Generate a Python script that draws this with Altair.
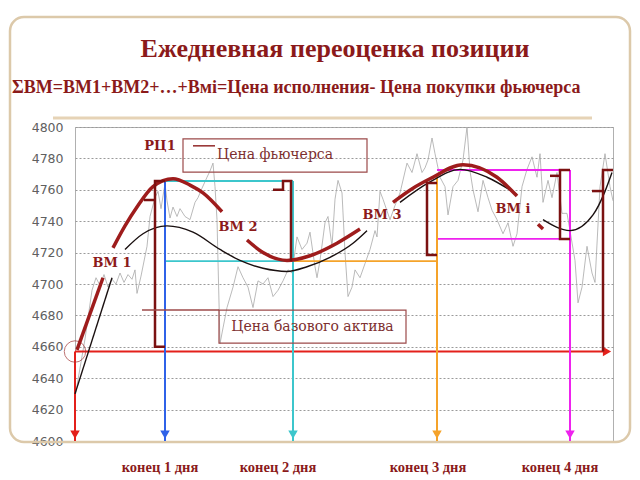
import altair as alt
import pandas as pd

# ---------------- data ----------------
Y_TICKS = list(range(4600, 4801, 20))

# thin grey price path (time units, price)
grey_t = [0, 3, 10, 17, 21, 25, 29, 33, 37, 41, 45, 49, 53, 57, 60, 62, 66, 72, 75, 80,
          83, 86, 90, 92, 95, 98, 102, 105, 110, 115, 120, 123, 127, 132, 135, 138, 140, 142, 145, 148,
          152, 158, 163, 168, 173, 178, 183, 188, 193, 198, 203, 208, 213, 217, 222, 227, 232, 235, 240, 242,
          245, 250, 253, 257, 260, 263, 267, 270, 273, 277, 280, 285, 290, 295, 300, 302, 305, 308, 315, 320,
          325, 332, 337, 342, 347, 350, 353, 357, 360, 365, 370, 373, 378, 383, 388, 392, 395, 398, 403, 408,
          413, 417, 422, 428, 433, 438, 442, 447, 452, 457, 462, 465, 468, 473, 477, 482, 487, 492, 495, 500,
          503, 507, 512, 517, 520, 525, 530, 535, 538]
grey_v = [4628, 4639, 4665, 4696, 4704, 4699, 4706, 4698, 4703, 4700, 4707, 4701, 4706, 4703, 4709, 4694, 4705, 4724, 4743, 4755,
          4759, 4748, 4764, 4753, 4742, 4749, 4743, 4748, 4743, 4741, 4752, 4755, 4761, 4768, 4772, 4777, 4762, 4741, 4662, 4672,
          4685, 4698, 4711, 4704, 4698, 4685, 4702, 4700, 4704, 4692, 4696, 4702, 4709, 4707, 4730, 4722, 4726, 4733, 4711, 4704,
          4715, 4739, 4743, 4724, 4754, 4766, 4758, 4720, 4692, 4698, 4709, 4704, 4713, 4722, 4734, 4730, 4759, 4754, 4741, 4750,
          4758, 4777, 4771, 4783, 4771, 4774, 4779, 4793, 4783, 4768, 4762, 4744, 4762, 4766, 4779, 4800, 4772, 4760, 4746, 4766,
          4755, 4747, 4741, 4732, 4739, 4724, 4732, 4762, 4773, 4781, 4768, 4783, 4752, 4766, 4755, 4771, 4745, 4745, 4734, 4715,
          4688, 4698, 4724, 4707, 4701, 4762, 4783, 4762, 4753]

# thick dark-red futures curves (segment, time, price)
red_seg = ["A", "A",
           "B", "B", "B", "B", "B", "B", "B", "B",
           "C", "C", "C", "C", "C", "C",
           "D", "D", "D", "D", "D", "D",
           "E", "E"]
red_t = [2, 28,
         38, 50, 62, 78, 98, 115, 128, 147,
         172, 188, 212, 235, 262, 285,
         318, 338, 355, 388, 422, 442,
         463, 468]
red_v = [4658, 4704,
         4723, 4737, 4749, 4762, 4767, 4763, 4758, 4746,
         4728, 4720, 4715, 4718, 4726, 4735,
         4752, 4761, 4767, 4776, 4768, 4756,
         4738, 4735]

# thin black curves
blk_seg = ["a", "a",
           "b", "b", "b", "b", "b", "b", "b", "b", "b", "b", "b", "b",
           "c", "c", "c", "c", "c",
           "d", "d", "d", "d", "d"]
blk_t = [0, 37,
         50, 68, 92, 118, 145, 165, 188, 212, 232, 255, 278, 292,
         325, 355, 385, 412, 442,
         468, 495, 518, 530, 537]
blk_v = [4630, 4704,
         4722, 4732, 4737, 4733, 4722, 4715, 4710, 4708, 4711, 4717, 4726, 4734,
         4752, 4765, 4773, 4768, 4757,
         4741, 4734, 4744, 4759, 4771]

# variation-margin brackets (segment, time, price)
br_seg = ["b1", "b1", "b1", "b1", "n1", "n1",
          "b2", "b2", "b2", "b2", "b2",
          "b3", "b3", "b3", "b3",
          "b4", "b4", "b4", "b4", "n4", "n4",
          "b5", "b5", "b5", "n5", "n5"]
br_t = [90, 80, 80, 90, 69, 80,
        198, 208, 208, 216, 216,
        362, 352, 352, 362,
        495, 485, 485, 495, 475, 485,
        538, 528, 528, 517, 528]
br_v = [4765.6, 4765.6, 4660, 4660, 4753.5, 4753.5,
        4760, 4760, 4765.6, 4765.6, 4714.6,
        4764.3, 4764.3, 4718.5, 4718.5,
        4772.6, 4772.6, 4728.7, 4728.7, 4768.9, 4768.9,
        4772.6, 4772.6, 4657, 4759.2, 4759.2]

# day-end arrows
arrow_t = [0, 90, 218, 362, 495]
arrow_top = [4657, 4765.6, 4765.6, 4769.4, 4772.6]
arrow_col = ["#e3201b", "#2f62e8", "#3cc6cc", "#f5a32a", "#ee22ee"]

# colored horizontal levels
lvl_t1 = [90, 90, 218, 362, 362, 0]
lvl_t2 = [218, 218, 362, 495, 495, 533]
lvl_v = [4765.6, 4714.6, 4714.6, 4772.6, 4728.7, 4657]
lvl_col = ["#3cc6cc", "#3cc6cc", "#f5a32a", "#ee22ee", "#ee22ee", "#e3201b"]

day_labels = ["конец 1 дня", "конец 2 дня", "конец 3 дня", "конец 4 дня"]
day_label_t = [85, 203, 353, 485]

bm_labels = ["РЦ1", "ВМ 1", "ВМ 2", "ВМ 3", "ВМ i"]
bm_t = [85, 37, 163, 307, 438]
bm_v = [4788, 4713.4, 4736.3, 4744, 4747.8]

box_labels = ["Цена фьючерса", "Цена базового актива"]
box_t1 = [108, 144]
box_t2 = [292, 331]
box_v1 = [4792.4, 4683.4]
box_v2 = [4771.3, 4662.4]

title_text = "Ежедневная переоценка позиции"
subtitle_text = "ΣВМ=ВМ1+ВМ2+…+Вмi=Цена исполнения- Цена покупки фьючерса"

DARK = "#8b1a1a"

# ---------------- scales ----------------
xs = alt.Scale(domain=[0, 538], nice=False, zero=False)
ys = alt.Scale(domain=[4600, 4800], nice=False, zero=False)
yaxis = alt.Axis(
    values=Y_TICKS, format="d", grid=True, gridDash=[2, 2], gridColor="#9a9a9a", gridWidth=1,
    ticks=False, domain=False, labelPadding=12, labelFont="DejaVu Sans",
    labelFontSize=12.5, labelColor="#606060", title=None)


def X(f="t"):
    return alt.X(f"{f}:Q", scale=xs, axis=None)


def Y(f="v"):
    return alt.Y(f"{f}:Q", scale=ys, axis=yaxis, title=None)


# ---------------- layers ----------------
frame = alt.Chart(pd.DataFrame({"k": [0]})).mark_rect(
    fill=None, stroke="#dcc9aa", strokeWidth=2.5, cornerRadius=14
).encode(x=alt.value(-65), x2=alt.value(555), y=alt.value(-110), y2=alt.value(315))

topbar = alt.Chart(pd.DataFrame({"k": [0]})).mark_rule(
    color="#e6d3b6", strokeWidth=3
).encode(x=alt.value(-22), x2=alt.value(517), y=alt.value(-9))

grey = alt.Chart(pd.DataFrame({"t": grey_t, "v": grey_v})).mark_line(
    color="#a8a8a8", strokeWidth=0.8
).encode(x=X(), y=Y())

levels = alt.Chart(pd.DataFrame({"t1": lvl_t1, "t2": lvl_t2, "v": lvl_v, "c": lvl_col})).mark_rule(
    strokeWidth=1.8
).encode(x=X("t1"), x2="t2:Q", y=Y(), color=alt.Color("c:N", scale=None))

arrows_df = pd.DataFrame({"t": arrow_t, "v": arrow_top, "bot": [4600] * 5, "c": arrow_col,
                          "head": [4604] * 5})
arrows = alt.Chart(arrows_df).mark_rule(strokeWidth=2).encode(
    x=X(), y=Y(), y2="bot:Q", color=alt.Color("c:N", scale=None))
heads = alt.Chart(arrows_df).mark_point(shape="triangle-down", filled=True, size=90, opacity=1).encode(
    x=X(), y=Y("head"), color=alt.Color("c:N", scale=None))
rhead = alt.Chart(pd.DataFrame({"t": [532], "v": [4657]})).mark_point(
    shape="triangle-right", filled=True, size=90, opacity=1, color="#e3201b"
).encode(x=X(), y=Y())

circle = alt.Chart(pd.DataFrame({"t": [0], "v": [4657]})).mark_point(
    shape="circle", size=460, filled=False, color="#a33a3a", strokeWidth=1
).encode(x=X(), y=Y())

blk = alt.Chart(pd.DataFrame({"s": blk_seg, "t": blk_t, "v": blk_v})).mark_line(
    color="#1a1010", strokeWidth=1.4, interpolate="monotone"
).encode(x=X(), y=Y(), detail="s:N")

red = alt.Chart(pd.DataFrame({"s": red_seg, "t": red_t, "v": red_v})).mark_line(
    color="#9e1c1c", strokeWidth=3.5, interpolate="monotone"
).encode(x=X(), y=Y(), detail="s:N")

br_df = pd.DataFrame({"s": br_seg, "i": list(range(len(br_seg))), "t": br_t, "v": br_v})
brackets = alt.Chart(br_df).mark_line(color="#7b1111", strokeWidth=2.5).encode(
    x=X(), y=Y(), detail="s:N", order=alt.Order("i:Q"))

boxes_df = pd.DataFrame({"lab": box_labels, "t1": box_t1, "t2": box_t2, "v": box_v1, "v2": box_v2})
boxes = alt.Chart(boxes_df).mark_rect(fill=None, stroke="#9c4a4a", strokeWidth=1.2).encode(
    x=X("t1"), x2="t2:Q", y=Y(), y2="v2:Q")
boxes_df["tc"] = [(a + b) / 2 for a, b in zip(box_t1, box_t2)]
boxes_df["vc"] = [(a + b) / 2 for a, b in zip(box_v1, box_v2)]
box_text = alt.Chart(boxes_df).mark_text(
    font="DejaVu Serif", fontSize=14, color="#7d2f2f", baseline="middle", align="center"
).encode(x=X("tc"), y=Y("vc"), text="lab:N")

box_lines = alt.Chart(pd.DataFrame({"t1": [118, 67], "t2": [140, 144], "v": [4788, 4683.4],
                                    "c": ["#8b1a1a", "#9c4a4a"]})).mark_rule(strokeWidth=1.4).encode(
    x=X("t1"), x2="t2:Q", y=Y(), color=alt.Color("c:N", scale=None))

bm = alt.Chart(pd.DataFrame({"lab": bm_labels, "t": bm_t, "v": bm_v})).mark_text(
    font="DejaVu Serif", fontWeight="bold", fontSize=13, color=DARK, baseline="middle"
).encode(x=X(), y=Y(), text="lab:N")

days = alt.Chart(pd.DataFrame({"lab": day_labels, "t": day_label_t})).mark_text(
    font="Liberation Serif", fontWeight="bold", fontSize=14.5, color=DARK, baseline="middle"
).encode(x=X(), y=alt.value(341), text="lab:N")

title = alt.Chart(pd.DataFrame({"lab": [title_text]})).mark_text(
    font="Liberation Serif", fontWeight="bold", fontSize=26, color=DARK, baseline="middle", align="center"
).encode(x=alt.value(260), y=alt.value(-78), text="lab:N")

subtitle = alt.Chart(pd.DataFrame({"lab": [subtitle_text]})).mark_text(
    font="Liberation Serif", fontWeight="bold", fontSize=18, color=DARK, baseline="middle", align="left"
).encode(x=alt.value(-63), y=alt.value(-39), text="lab:N")

chart = alt.layer(
    frame, topbar, grey, levels, arrows, heads, rhead, circle, blk, red, brackets,
    boxes, box_lines, box_text, bm, days, title, subtitle
).properties(
    width=538, height=314,
    autosize=alt.AutoSizeParams(type="none"),
    padding={"left": 75, "top": 127, "right": 27, "bottom": 39},
    background="white",
).configure_view(stroke="#b0b0b0", strokeWidth=1)

chart.save("out.html", embed_options={"renderer": "svg", "actions": False})
